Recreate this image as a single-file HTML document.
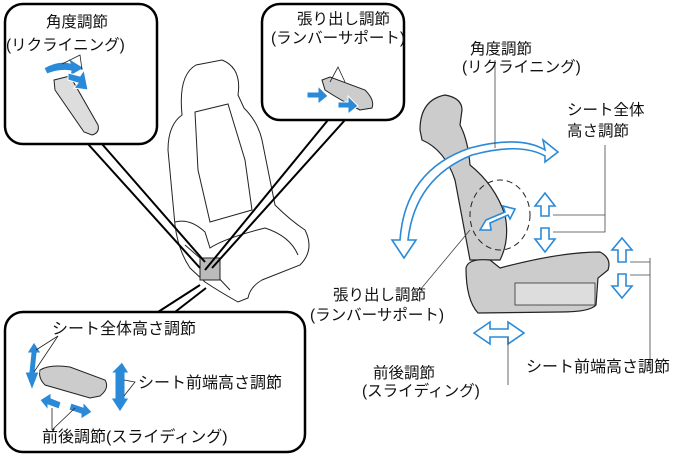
<!DOCTYPE html>
<html><head><meta charset="utf-8"><style>
html,body{margin:0;padding:0;background:#fff;width:674px;height:458px;overflow:hidden}
svg{display:block}
text{font-family:"Liberation Sans","Noto Sans CJK JP",sans-serif;font-size:15.5px;fill:#111}
</style></head><body>
<svg width="674" height="458" viewBox="0 0 674 458">
<!-- left seat outline -->
<g fill="none" stroke="#222" stroke-width="1">
<path d="M182 115 Q178 75 196 65 L222 60 Q242 68 238 95 L244 108 Q258 122 262 140 L275 205 Q290 220 305 230 Q315 250 300 265 L262 280 Q250 287 248 298 L238 302 Q220 292 205 282 L190 268 Q178 250 175 225 L168 150 Q168 125 182 115 Z"/>
<path d="M195 112 L228 104 L245 160 L252 210 L210 222 L198 170 Z"/>
<path d="M175 222 Q190 218 205 232 L210 248 Q225 238 265 228 Q290 236 298 255"/>
<path d="M185 245 L200 258 L230 290"/>
</g>
<rect x="200" y="258" width="20" height="22" fill="#bbb" stroke="#222"/>
<!-- box1 -->
<rect x="5" y="4" width="152" height="140" rx="18" fill="#fff" stroke="#000" stroke-width="2.5"/>
<text x="46" y="27">角度調節</text>
<text x="6" y="50">(リクライニング)</text>
<path d="M54 80 L70 76 L98 125 Q100 133 92 135 L84 132 L55 90 Z" fill="#ddd" stroke="#222"/>
<path d="M44 68 Q58 60 70 63 L68 58 L84 68 L70 76 L71 71 Q60 69 47 74 Z" fill="#2a8ad8" stroke="#fff"/>
<path d="M68 73 L80 76 L84 70 L88 90 L74 88 L78 83 L68 80Z" fill="#2a8ad8" stroke="#fff"/>
<path d="M62 64 L80 55 L82 70" fill="none" stroke="#222" stroke-width="0.8"/>
<!-- box2 -->
<rect x="262" y="4" width="142" height="116" rx="18" fill="#fff" stroke="#000" stroke-width="2.5"/>
<text x="297" y="24">張り出し調節</text>
<text x="271" y="43">(ランバーサポート)</text>
<path d="M322 80 L330 77 L365 90 Q375 100 372 108 L360 110 Q340 100 325 90 Z" fill="#ccc" stroke="#222"/>
<path d="M307 92 L318 92 L318 86 L328 96 L318 104 L318 98 L307 98 Z" fill="#2a8ad8" stroke="#fff"/>
<path d="M338 102 L348 102 L348 96 L358 106 L348 114 L348 108 L338 108 Z" fill="#2a8ad8" stroke="#fff"/>
<path d="M330 82 L338 67 L345 82" fill="none" stroke="#222" stroke-width="0.8"/>
<!-- leaders -->
<g stroke="#000" stroke-width="2" fill="none">
<path d="M88 144 L200 268"/><path d="M102 144 L205 262"/>
<path d="M328 120 L205 270"/><path d="M345 120 L212 268"/>
<path d="M158 312 L200 285"/><path d="M175 312 L206 288"/>
</g>
<!-- box3 -->
<rect x="5" y="312" width="300" height="140" rx="18" fill="#fff" stroke="#000" stroke-width="2.5"/>
<text x="52" y="334" style="font-size:16px">シート全体高さ調節</text>
<text x="138" y="388" style="font-size:16px">シート前端高さ調節</text>
<text x="42" y="442" style="font-size:16px">前後調節(スライディング)</text>
<path d="M40 370 Q50 364 70 367 L105 380 Q110 388 100 396 L90 398 L45 385 Q38 378 40 370 Z" fill="#ccc" stroke="#222"/>
<g fill="#2a8ad8" stroke="#fff">
<path d="M34 342 L41 353 L37 353 L35 372 L39 372 L32 390 L25 372 L29 372 L31 353 L27 353 Z"/>
<path d="M122 362 L129 373 L125 373 L125 398 L129 398 L120 412 L111 398 L115 398 L115 373 L111 373 Z"/>
<path d="M40 400 L51 393 L51 398 L61 402 L59 409 L48 405 L48 410 Z"/>
<path d="M92 412 L81 419 L81 414 L69 410 L71 403 L83 407 L83 402 Z"/>
</g>
<g stroke="#222" stroke-width="0.8" fill="none">
<path d="M36 350 L58 336 L34 372"/><path d="M124 380 L135 382 L124 396"/><path d="M52 430 L52 408 M52 430 L75 408"/>
</g>
<!-- right seat -->
<g fill="#ccc" stroke="#222" stroke-width="1.2">
<path d="M420 130 Q420 100 445 95 Q462 98 462 110 L460 125 Q468 140 470 165 Q495 185 505 215 Q510 240 500 260 L470 260 L455 180 Q445 150 422 140 Z"/>
<path d="M466 268 Q468 258 490 260 L500 268 Q560 252 600 252 Q612 258 608 270 L598 278 L596 305 Q590 312 560 312 L478 313 Q466 300 466 268 Z"/>
</g>
<rect x="515" y="283" width="80" height="22" fill="#ddd" stroke="#333" stroke-width="0.8"/>
<ellipse cx="500" cy="215" rx="30" ry="35" fill="none" stroke="#222" stroke-dasharray="6 4"/>
<g fill="#fff" stroke="#2a8ad8" stroke-width="1.6">
<path d="M400 240 Q405 170 470 148 Q520 135 545 150 L543 140 L558 152 L545 162 L545 156 Q520 142 472 155 Q415 178 408 240 L416 240 L404 258 L392 240 Z"/>
<path d="M545 193 L555 206 L549 206 L549 216 L541 216 L541 206 L535 206 Z"/>
<path d="M545 252 L555 239 L549 239 L549 228 L541 228 L541 239 L535 239 Z"/>
<path d="M622 238 L632 250 L626 250 L626 262 L618 262 L618 250 L612 250 Z"/>
<path d="M622 298 L632 286 L626 286 L626 274 L618 274 L618 286 L612 286 Z"/>
<path d="M474 333 L490 322 L490 329 L508 329 L508 322 L524 333 L508 344 L508 337 L490 337 L490 344 Z"/>
<path d="M480 230 L486 220 L505 212 L503 206 L515 209 L510 219 L508 215 L490 223 L491 230 Z"/>
</g>
<g stroke="#444" stroke-width="0.8" fill="none">
<path d="M495 60 L495 148"/><path d="M605 145 L605 215 L553 215 M605 215 L605 232 L553 232"/>
<path d="M650 258 L650 370 M630 262 L650 262 M630 275 L650 275"/>
<path d="M508 337 L508 385"/><path d="M470 230 L420 290"/>
</g>
<text x="470" y="54">角度調節</text>
<text x="462" y="72">(リクライニング)</text>
<text x="567" y="115">シート全体</text>
<text x="567" y="136">高さ調節</text>
<text x="333" y="300">張り出し調節</text>
<text x="310" y="320">(ランバーサポート)</text>
<text x="373" y="378">前後調節</text>
<text x="362" y="396">(スライディング)</text>
<text x="526" y="372" style="font-size:16px">シート前端高さ調節</text>
</svg>
</body></html>
